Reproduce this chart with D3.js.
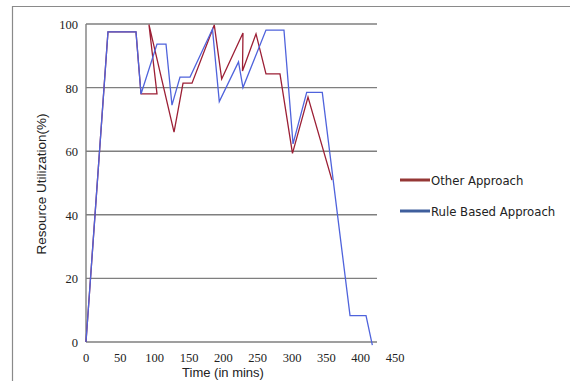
<!DOCTYPE html>
<html>
<head>
<meta charset="utf-8">
<script src="https://cdn.jsdelivr.net/npm/d3@7"></script>
<style>
  html, body { margin: 0; padding: 0; background: #fff; }
  svg { display: block; }
</style>
</head>
<body>
<svg id="chart" width="570" height="381"></svg>
<script>
// ---- data ----
const seriesNames = ["Other Approach", "Rule Based Approach"];
const otherTime = [0, 32, 72.8, 80.1, 103.4, 91.7, 128.2, 141.3, 154.4, 186.8, 197.6, 228.6, 227.9, 247.6, 262.1, 282.5, 300.7, 323.3, 358.2];
const otherUtil = [0, 97.5, 97.5, 78, 78, 99.8, 66, 81.4, 81.4, 99.7, 82.7, 97.2, 85.2, 96.9, 84.3, 84.3, 59.3, 77, 50.9];
const ruleTime = [0, 32, 72.8, 80.1, 103.4, 116.5, 125.2, 136.9, 151.5, 184.2, 194.1, 222.1, 228.6, 262.1, 288.3, 301.5, 321.4, 344.1, 384.5, 407.8, 417];
const ruleUtil = [0, 97.5, 97.5, 78, 93.7, 93.7, 74.5, 83.3, 83.3, 98.4, 75.6, 88.1, 80, 98.1, 98.1, 62.3, 78.5, 78.5, 8.3, 8.3, -1];
const xTicks = [0, 50, 100, 150, 200, 250, 300, 350, 400, 450];
const yTicks = [0, 20, 40, 60, 80, 100];

// ---- layout ----
const svg = d3.select("#chart");
const plotLeft = 86, plotRight = 377, plotTop = 24, plotBottom = 342;
const x = d3.scaleLinear().domain([0, 450]).range([86, 395]);
const y = d3.scaleLinear().domain([0, 100]).range([plotBottom, plotTop]);

const colors = { other: "#9c1f35", rule: "#4f63dc" };
const legendColors = { other: "#953735", rule: "#3f5e9c" };

// outer chart frame (top and left edges visible)
svg.append("path")
  .attr("d", "M12.5,381 V6.5 H570")
  .attr("fill", "none").attr("stroke", "#8a8a8a").attr("stroke-width", 1.2);

// gridlines
svg.append("g").selectAll("line").data(yTicks).join("line")
  .attr("x1", plotLeft).attr("x2", plotRight)
  .attr("y1", d => y(d)).attr("y2", d => y(d))
  .attr("stroke", "#7f7f7f").attr("stroke-width", 1.4);

// left axis line
svg.append("line")
  .attr("x1", plotLeft).attr("x2", plotLeft)
  .attr("y1", plotTop).attr("y2", plotBottom)
  .attr("stroke", "#7f7f7f").attr("stroke-width", 1.4);

// y tick labels
svg.append("g").selectAll("text").data(yTicks).join("text")
  .attr("x", 78).attr("y", d => y(d) + 5)
  .attr("text-anchor", "end")
  .style("font-family", "'Liberation Serif', 'DejaVu Serif', serif").attr("font-size", 12.5)
  .attr("fill", "#222")
  .text(d => d);

// x tick labels
svg.append("g").selectAll("text").data(xTicks).join("text")
  .attr("x", d => x(d)).attr("y", 362)
  .attr("text-anchor", "middle")
  .style("font-family", "'Liberation Serif', 'DejaVu Serif', serif").attr("font-size", 12.5)
  .attr("fill", "#222")
  .text(d => d);

// axis titles
svg.append("text")
  .attr("transform", "translate(46,184) rotate(-90)")
  .attr("text-anchor", "middle")
  .style("font-family", "'Liberation Sans', Arial, sans-serif").attr("font-size", 13.5)
  .attr("fill", "#222")
  .text("Resource Utilization(%)");

svg.append("text")
  .attr("x", 223).attr("y", 377)
  .attr("text-anchor", "middle")
  .style("font-family", "'Liberation Sans', Arial, sans-serif").attr("font-size", 13)
  .attr("fill", "#222")
  .text("Time (in mins)");

// lines
const line = d3.line().x(d => x(d[0])).y(d => y(d[1]));
const otherData = otherTime.map((t, i) => [t, otherUtil[i]]);
const ruleData = ruleTime.map((t, i) => [t, ruleUtil[i]]);

svg.append("path").datum(otherData)
  .attr("d", line).attr("fill", "none")
  .attr("stroke", colors.other).attr("stroke-width", 1.3).attr("stroke-linejoin", "miter");
svg.append("path").datum(ruleData)
  .attr("d", line).attr("fill", "none")
  .attr("stroke", colors.rule).attr("stroke-width", 1.3).attr("stroke-linejoin", "miter");

// legend
const legend = svg.append("g");
const legendItems = [
  { name: seriesNames[0], color: legendColors.other, y: 180 },
  { name: seriesNames[1], color: legendColors.rule, y: 211 }
];
legendItems.forEach(it => {
  legend.append("line")
    .attr("x1", 400).attr("x2", 430).attr("y1", it.y).attr("y2", it.y)
    .attr("stroke", it.color).attr("stroke-width", 3);
  legend.append("text")
    .attr("x", 431).attr("y", it.y + 5)
    .style("font-family", "'DejaVu Sans Condensed', 'DejaVu Sans', sans-serif").attr("font-size", 13)
    .attr("fill", "#222")
    .text(it.name);
});
</script>
</body>
</html>
